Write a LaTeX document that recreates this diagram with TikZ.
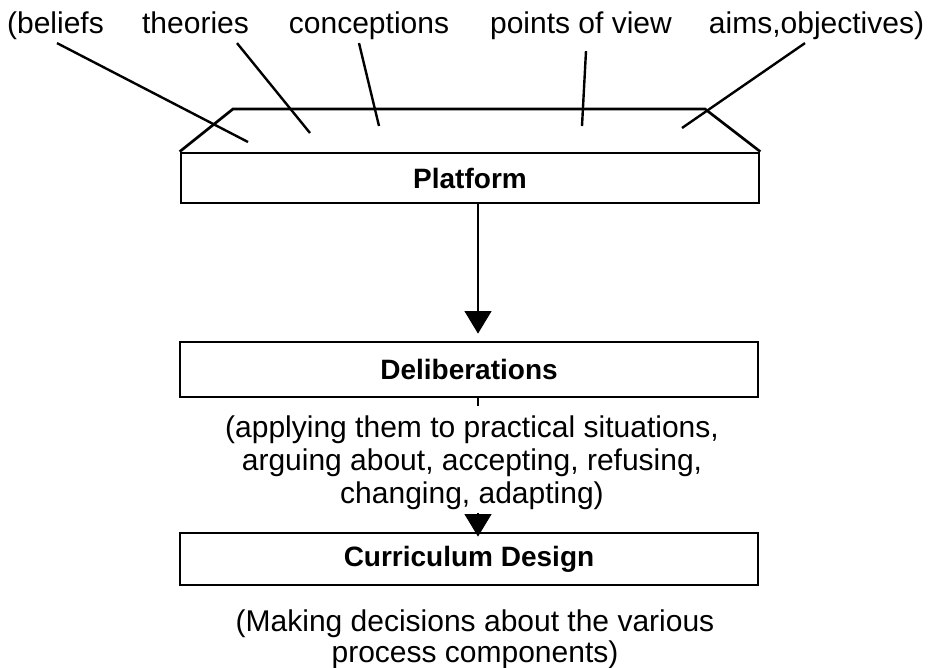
\documentclass[tikz,border=0pt]{standalone}
\usepackage{fontspec}
\setmainfont{Liberation Sans}
\usetikzlibrary{arrows.meta,calc}
\begin{document}
\begin{tikzpicture}[x=0.75pt,y=-0.75pt,
  lbl/.style={font=\fontsize{22.5}{25}\selectfont, inner sep=0pt, anchor=base, text height=0.75em, text depth=0.25em},
  note/.style={font=\fontsize{22.5}{24.6}\selectfont, inner sep=0pt, anchor=base, align=center},
  frame/.style={draw, line width=2pt, font=\bfseries\fontsize{21}{24}\selectfont, inner sep=0pt, minimum width=433.5pt},
  lead/.style={line width=1.8pt},
  arr/.style={line width=2pt, -{Triangle[width=20pt,length=17pt]}}]
\useasboundingbox (0,0) rectangle (929,668);

% top labels
\node[lbl] (b1) at (55.5,33) {(beliefs};
\node[lbl] (b2) at (195.5,33) {theories};
\node[lbl] (b3) at (369,33) {conceptions};
\node[lbl] (b4) at (581,33) {points of view};
\node[lbl] (b5) at (816.5,33) {aims,objectives)};

% boxes
\node[frame, minimum height=37.5pt] (plat) at (470,178) {Platform};
\node[frame, minimum height=41.25pt] (del) at (469,369.5) {Deliberations};
\node[frame, minimum height=39pt] (cur) at (469,559) {Curriculum Design};

% platform top face
\draw[line width=2pt, line join=miter] (plat.north west) -- (233,109) -- (705,109) -- (plat.north east);

% leader lines
\coordinate (e1) at (248,142);
\coordinate (e2) at (310,133);
\coordinate (e3) at (379,126);
\coordinate (e4) at (582,126);
\coordinate (e5) at (682,128);
\draw[lead] ($(b1.south)+(1.5,6.5)$) -- (e1);
\draw[lead] ($(b2.south)+(41.5,6.5)$) -- (e2);
\draw[lead] ($(b3.south)+(-10,6.5)$) -- (e3);
\draw[lead] ($(b4.south)+(5,14.5)$) -- (e4);
\draw[lead] ($(b5.south)+(-11.5,6.5)$) -- (e5);

% notes (base anchor = baseline of the last line)
\node[note] (n1) at (472,503) {(applying them to practical situations,\\arguing about, accepting, refusing,\\changing, adapting)};
\node[note, font=\fontsize{22.5}{23.25}\selectfont] (n2) at (475,662) {(Making decisions about the various\\process components)};

% arrows
\draw[arr] ($(plat.south)+(8,0)$) -- ($(del.north)+(9,-7)$);
\draw[line width=2pt] ($(del.south)+(9,0)$) -- ++(0,8);
\coordinate (a2) at (478,513);
\draw[arr] (a2) -- ($(cur.north)+(9,5)$);
\end{tikzpicture}
\end{document}
